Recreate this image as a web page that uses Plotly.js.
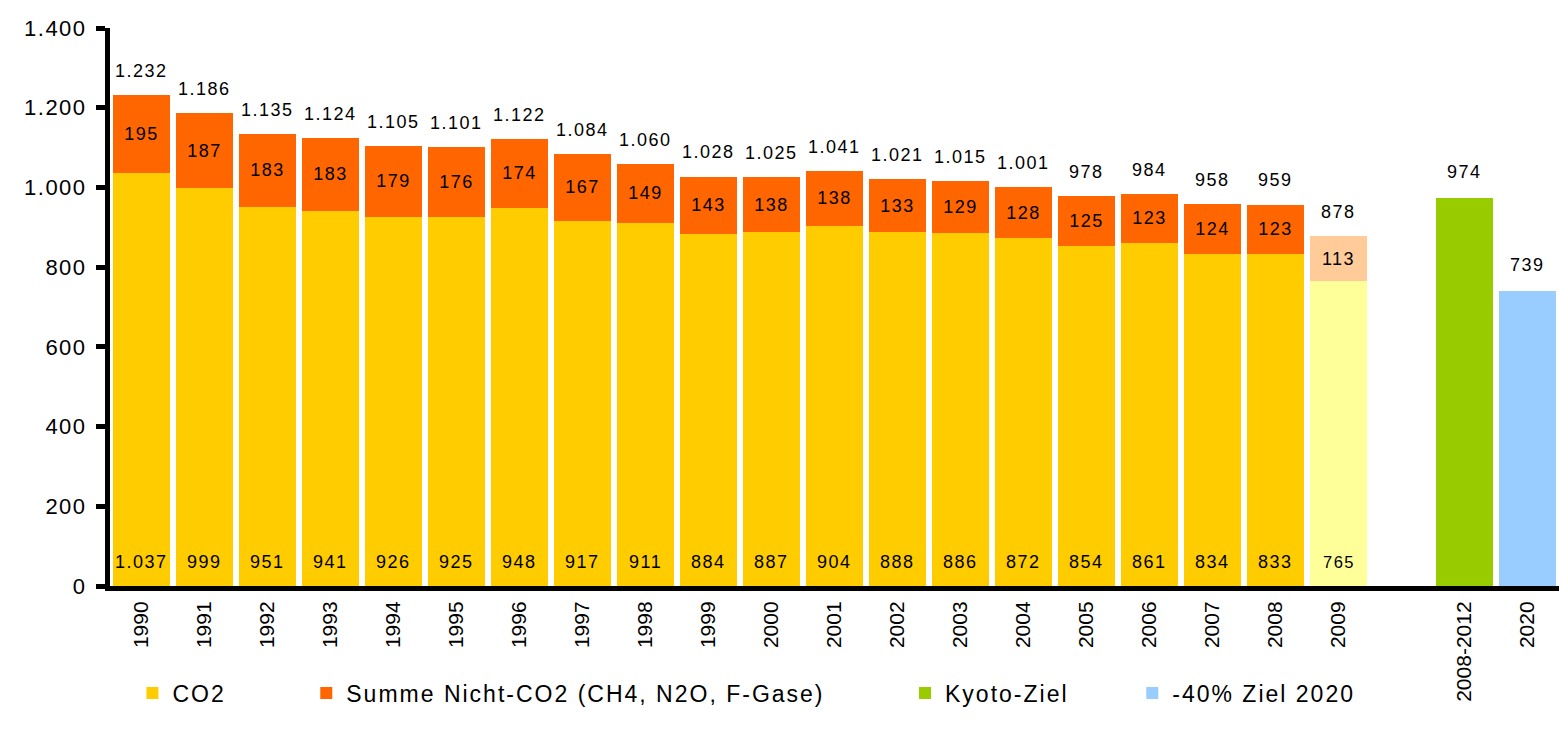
<!DOCTYPE html>
<html>
<head>
<meta charset="utf-8">
<script src="https://cdn.plot.ly/plotly-3.0.1.min.js"></script>
<style>
html,body{margin:0;padding:0;background:#fff;}
#chart{width:1559px;height:732px;}
.ytick text, text.ytick{letter-spacing:1.5px;}
.legendtext{letter-spacing:2px;}
.annotation-text{letter-spacing:1.5px;}
.bartext{letter-spacing:1.5px;}
</style>
</head>
<body>
<div id="chart"></div>
<script>
// ---- data ----
var years = ['1990','1991','1992','1993','1994','1995','1996','1997','1998','1999','2000','2001','2002','2003','2004','2005','2006','2007','2008','2009'];
var co2 = [1037, 999, 951, 941, 926, 925, 948, 917, 911, 884, 887, 904, 888, 886, 872, 854, 861, 834, 833, 765];
var nonCo2 = [195, 187, 183, 183, 179, 176, 174, 167, 149, 143, 138, 138, 133, 129, 128, 125, 123, 124, 123, 113];
var totals = [1232, 1186, 1135, 1124, 1105, 1101, 1122, 1084, 1060, 1028, 1025, 1041, 1021, 1015, 1001, 978, 984, 958, 959, 878];
var targetCats = ['2008-2012', '2020'];
var kyotoValue = [974];
var ziel2020Value = [739];
var categories = years.concat([''], targetCats);
var seriesNames = ['CO2', 'Summe Nicht-CO2 (CH4, N2O, F-Gase)', 'Kyoto-Ziel', '-40% Ziel 2020'];

// ---- helpers ----
function fmt(v){ return String(v).replace(/\B(?=(\d{3})+(?!\d))/g, '.'); }
var xYears = years.map(function(_, i){ return i; });
var xKyoto = [categories.indexOf(targetCats[0])];
var xZiel = [categories.indexOf(targetCats[1])];
var lastIdx = years.length - 1;
var co2Colors = years.map(function(_, i){ return i === lastIdx ? '#FFFF99' : '#FFCC00'; });
var nonColors = years.map(function(_, i){ return i === lastIdx ? '#FFCC99' : '#FF6600'; });
var pad = function(n){ return new Array(n + 1).join('\u00a0'); };

var FONT = 'Liberation Sans, Arial, Helvetica, sans-serif';

var traces = [
  {type:'bar', x:xYears, y:co2, name:seriesNames[0] + pad(9),
   marker:{color:co2Colors}, hoverinfo:'skip'},
  {type:'bar', x:xYears, y:nonCo2, name:seriesNames[1] + pad(9),
   marker:{color:nonColors},
   text:nonCo2.map(fmt), textposition:'inside', insidetextanchor:'middle', textangle:0,
   insidetextfont:{family:FONT, size:18, color:'#000'}, constraintext:'none', hoverinfo:'skip'},
  {type:'bar', x:xKyoto, y:kyotoValue, name:seriesNames[2] + pad(7),
   marker:{color:'#99CC00'}, hoverinfo:'skip'},
  {type:'bar', x:xZiel, y:ziel2020Value, name:seriesNames[3],
   marker:{color:'#99CCFF'}, hoverinfo:'skip'}
];

var annotations = [];
years.forEach(function(_, i){
  annotations.push({x:i, y:totals[i], text:fmt(totals[i]), showarrow:false,
    yanchor:'bottom', yshift:12, font:{family:FONT, size:18, color:'#000'}});
  annotations.push({x:i, y:0, text:fmt(co2[i]), showarrow:false,
    yanchor:'middle', yshift:24, font:{family:FONT, size:(i === lastIdx ? 16.5 : 18), color:'#000'}});
});
annotations.push({x:xKyoto[0], y:kyotoValue[0], text:fmt(kyotoValue[0]), showarrow:false,
  yanchor:'bottom', yshift:14, font:{family:FONT, size:18, color:'#000'}});
annotations.push({x:xZiel[0], y:ziel2020Value[0], text:fmt(ziel2020Value[0]), showarrow:false,
  yanchor:'bottom', yshift:14, font:{family:FONT, size:18, color:'#000'}});

var layout = {
  width:1559, height:732,
  margin:{l:110, r:0, t:28, b:146},
  paper_bgcolor:'#fff', plot_bgcolor:'#fff',
  barmode:'stack', bargap:0.11,
  separators:',.',
  font:{family:FONT, color:'#000'},
  showlegend:true,
  legend:{orientation:'h', x:0.0155, xanchor:'left', y:-0.192, yanchor:'middle',
    font:{family:FONT, size:23, color:'#000'}, itemclick:false, traceorder:'normal'},
  xaxis:{range:[-0.5, categories.length - 0.5], tickmode:'array',
    tickvals:categories.map(function(_, i){ return i; }), ticktext:categories,
    tickangle:-90, ticks:'', showgrid:false, zeroline:false,
    showline:true, linecolor:'#000', linewidth:5, ticklabelstandoff:2,
    tickfont:{family:FONT, size:21, color:'#000'}, fixedrange:true},
  yaxis:{range:[0, 1400], dtick:200, tick0:0, tickformat:',d',
    ticks:'outside', ticklen:9, tickwidth:5, tickcolor:'#000', ticklabelstandoff:5,
    showgrid:false, zeroline:false, showline:true, linecolor:'#000', linewidth:5,
    tickfont:{family:FONT, size:22, color:'#000'}, fixedrange:true},
  annotations:annotations
};

Plotly.newPlot('chart', traces, layout, {displayModeBar:false, staticPlot:true});
</script>
</body>
</html>
